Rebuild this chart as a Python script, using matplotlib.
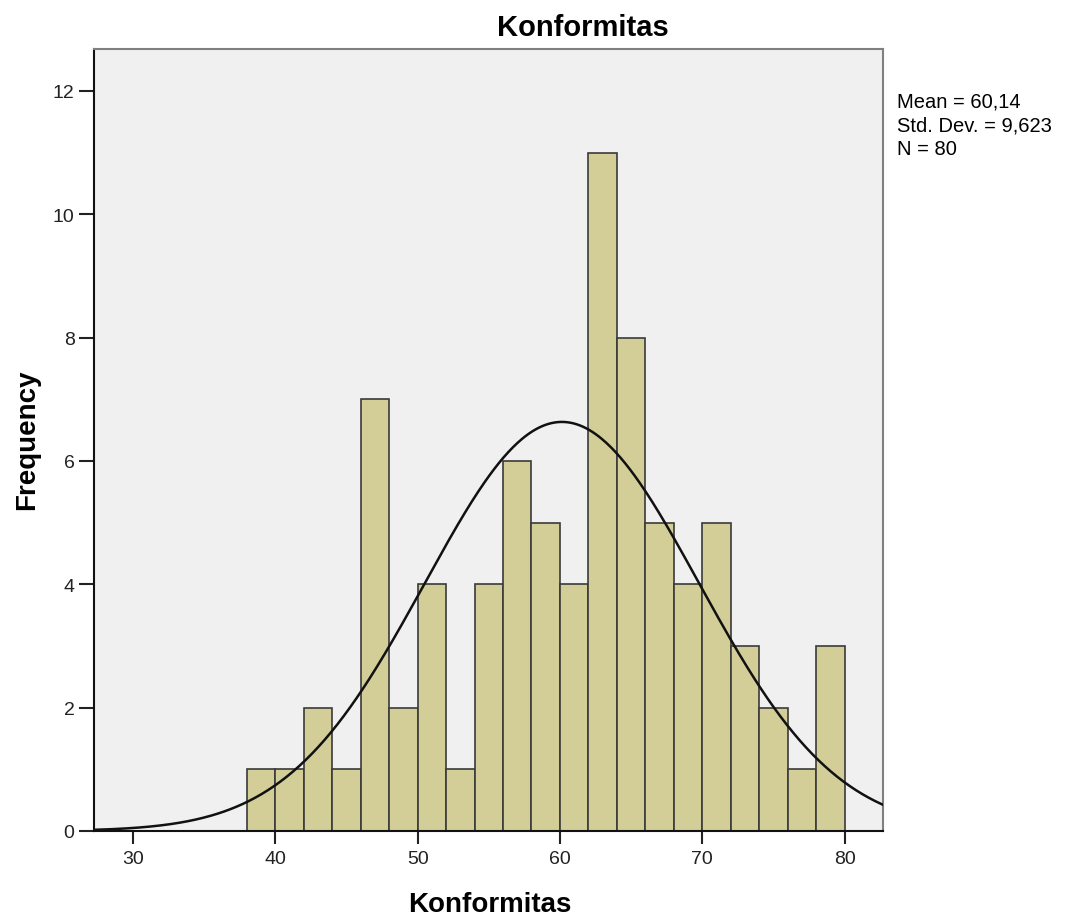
import numpy as np
import matplotlib
matplotlib.use("Agg")
import matplotlib.pyplot as plt

bin_edges = [38, 40, 42, 44, 46, 48, 50, 52, 54, 56, 58, 60, 62, 64, 66, 68, 70, 72, 74, 76, 78, 80]
counts = [1, 1, 2, 1, 7, 2, 4, 1, 4, 6, 5, 4, 11, 8, 5, 4, 5, 3, 2, 1, 3]
mean = 60.14
std = 9.623
n = 80
xticks = [30, 40, 50, 60, 70, 80]
yticks = [0, 2, 4, 6, 8, 10, 12]

plt.rcParams['font.family'] = ['Liberation Sans', 'DejaVu Sans']

fig = plt.figure(figsize=(10.68, 9.2), dpi=100)
ax = fig.add_axes([94/1068, 1 - 832/920, (883-94)/1068, (832-50)/920])
ax.set_facecolor('#F0F0F0')

lefts = bin_edges[:-1]
widths = np.diff(bin_edges)
ax.bar(lefts, counts, width=widths, align='edge', color='#D3CE98',
       edgecolor='#3A3A3A', linewidth=1.2, zorder=2)

bw = bin_edges[1] - bin_edges[0]
xs = np.linspace(27.26, 82.7, 500)
ys = n * bw / (std * np.sqrt(2 * np.pi)) * np.exp(-0.5 * ((xs - mean) / std) ** 2)
ax.plot(xs, ys, color='#111111', linewidth=1.8, zorder=3)

ax.set_xlim(27.26, 82.7)
ax.set_ylim(0, 12.68)
ax.set_xticks(xticks)
ax.set_yticks(yticks)
ax.tick_params(axis='both', direction='out', length=11, width=1.5, labelsize=14, colors='#222222', pad=3)
ax.tick_params(axis='x', length=9, pad=5)

for side in ['left', 'bottom']:
    ax.spines[side].set_color('#111111')
    ax.spines[side].set_linewidth(1.5)
for side in ['top', 'right']:
    ax.spines[side].set_color('#808080')
    ax.spines[side].set_linewidth(1.5)

fig.text(583/1068, 1 - 28/920, 'Konformitas', fontsize=21, fontweight='bold',
         ha='center', va='center')
fig.text(490/1068, 1 - 905/920, 'Konformitas', fontsize=20, fontweight='bold',
         ha='center', va='center')
fig.text(27/1068, 1 - 440/920, 'Frequency', fontsize=20, fontweight='bold',
         ha='center', va='center', rotation=90)

fig.text(897/1068, 1 - 93/920, 'Mean = 60,14\nStd. Dev. = 9,623\nN = 80',
         fontsize=14.5, va='top', ha='left', linespacing=1.3)

fig.savefig('out.png', dpi=100)
